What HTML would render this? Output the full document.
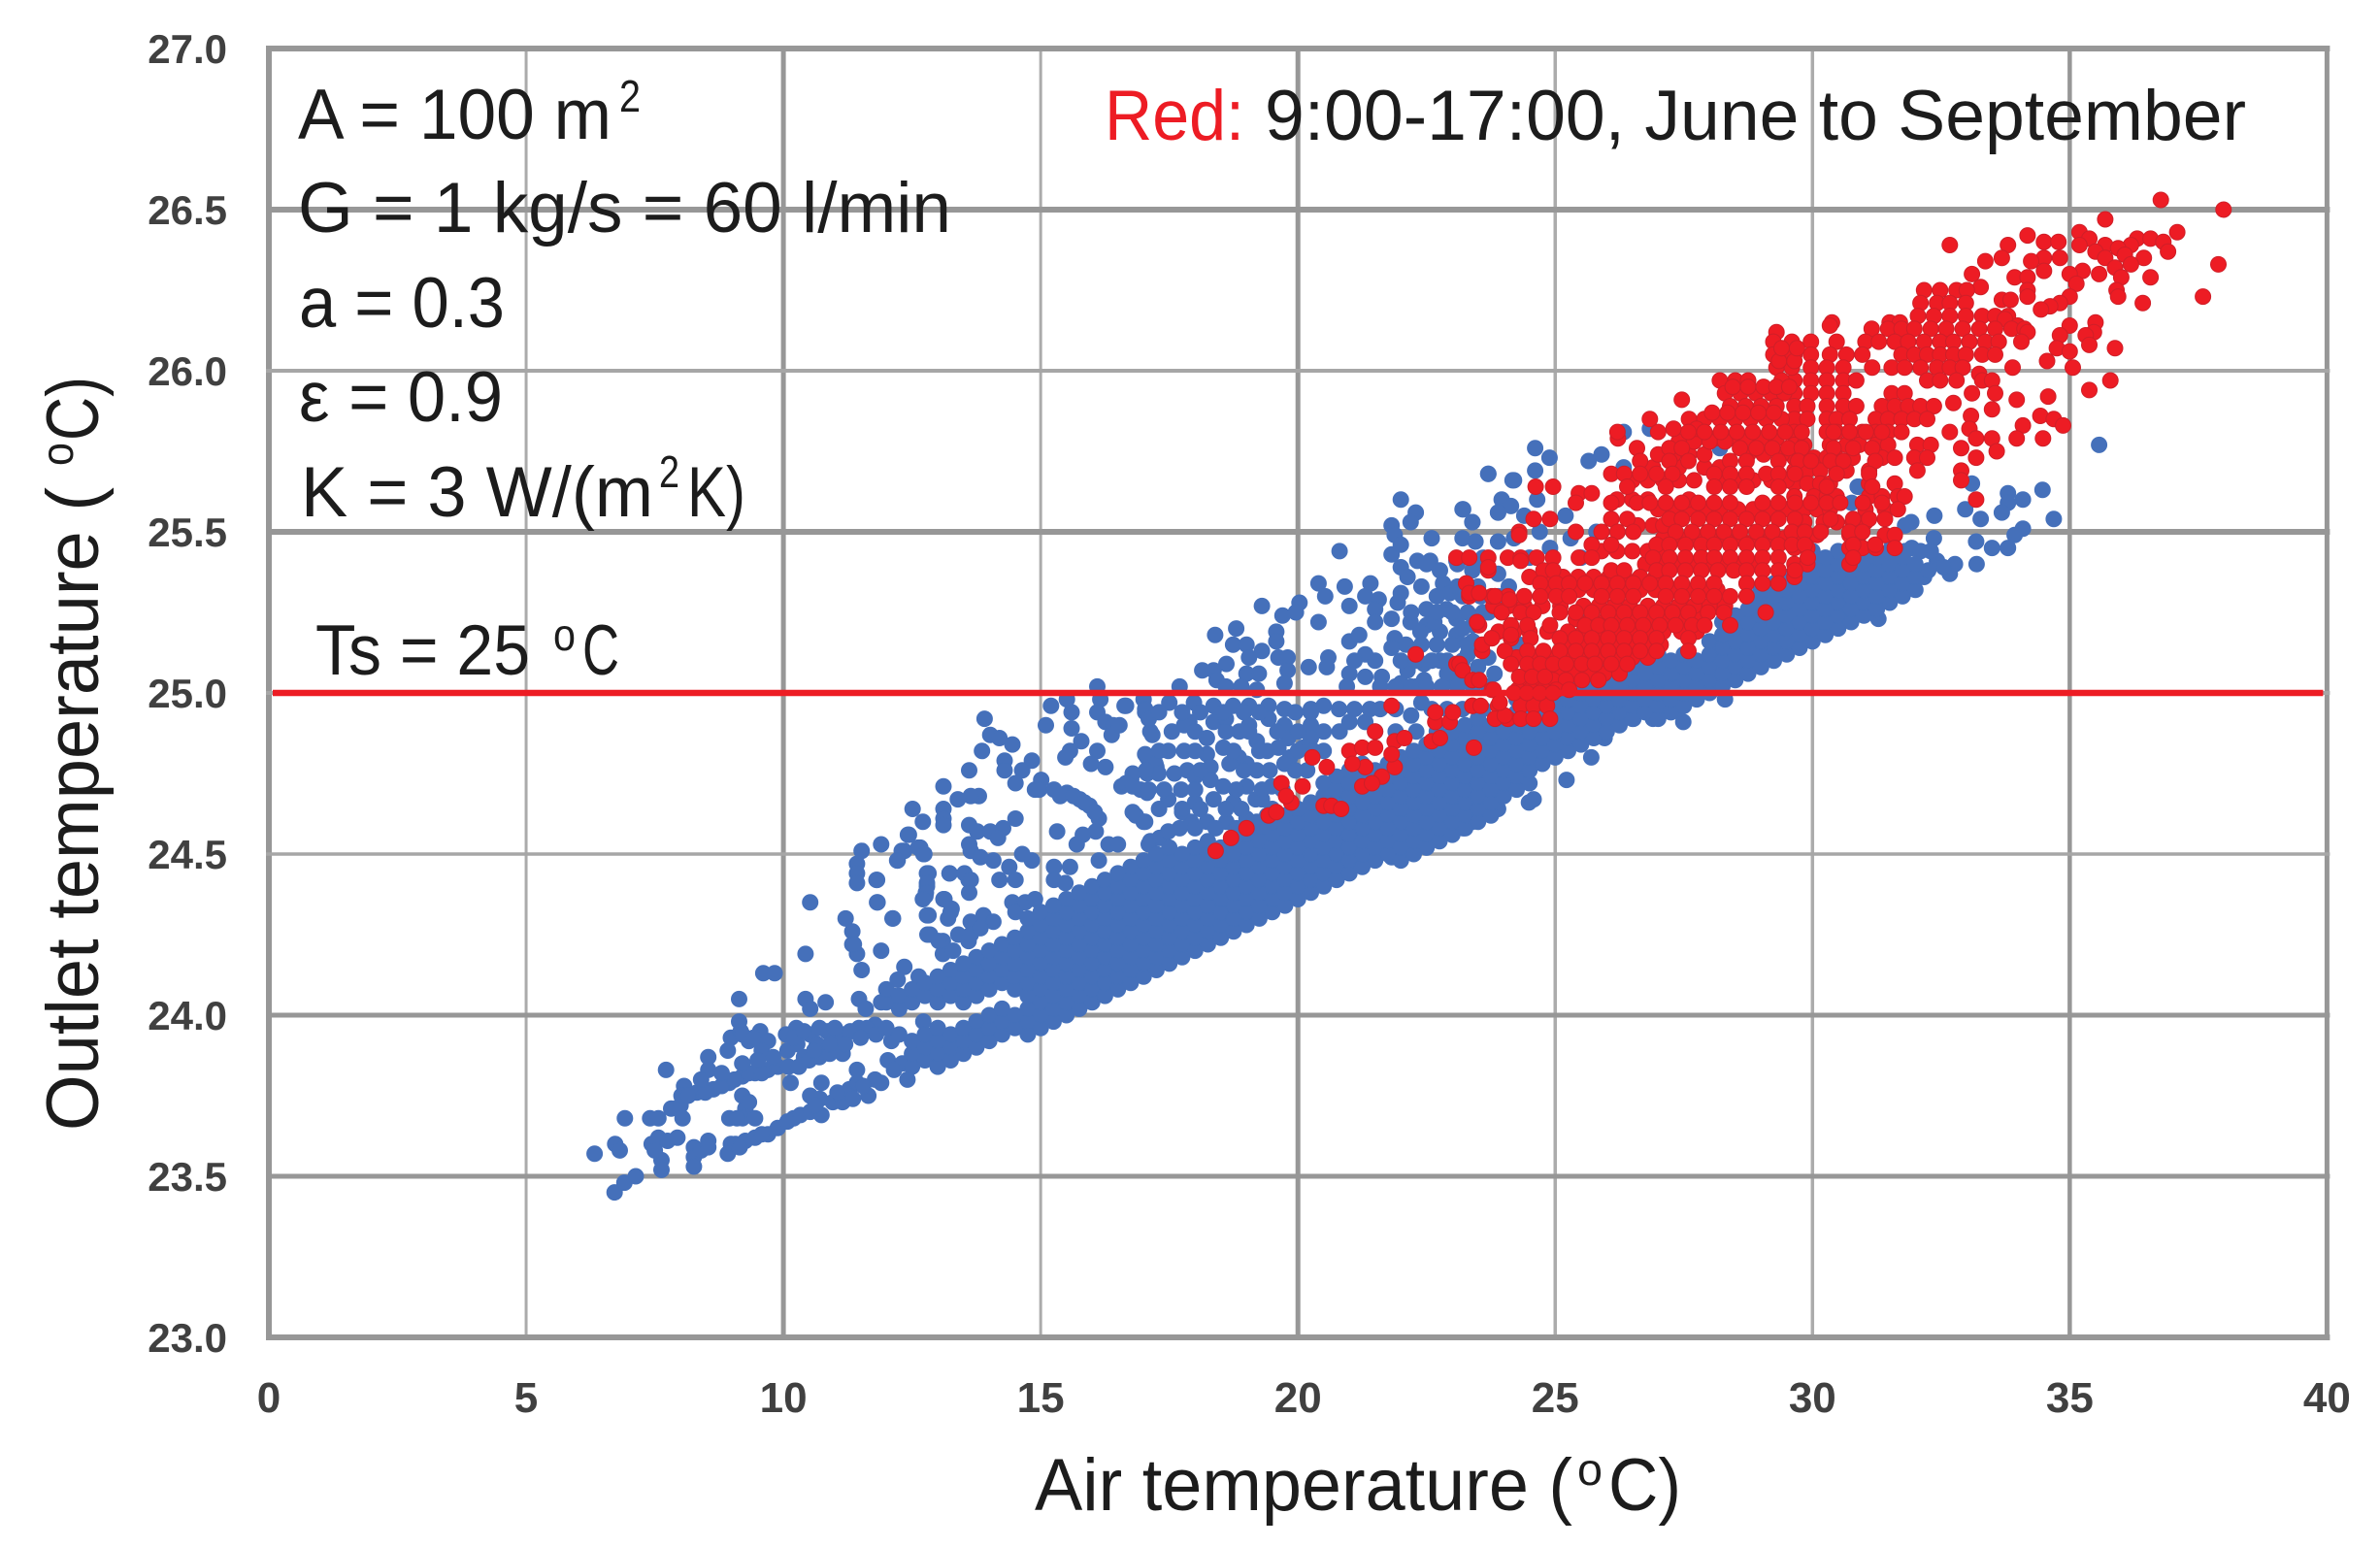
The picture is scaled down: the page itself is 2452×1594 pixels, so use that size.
<!DOCTYPE html>
<html lang="en">
<head>
<meta charset="utf-8">
<title>Outlet temperature vs air temperature</title>
<style>
html,body{margin:0;padding:0;background:#fff;}
svg{display:block;}
text{font-family:"Liberation Sans",sans-serif;}
.big{font-size:73px;fill:#1c1c1c;}
.axis{font-size:76px;fill:#1c1c1c;}
.sup{font-size:46px;fill:#1c1c1c;}
.tick{font-weight:bold;fill:#404040;}
</style>
</head>
<body>
<svg id="chart" xmlns="http://www.w3.org/2000/svg" width="2452" height="1594" viewBox="0 0 2452 1594">
<rect width="2452" height="1594" fill="#ffffff"/>
<g id="grid"></g>
<g id="blue"></g>
<g id="red"></g>
<g id="ts"></g>
<g id="ticks"></g>

<g>
<text class="big" x="307" y="143" textLength="323" lengthAdjust="spacingAndGlyphs">A = 100 m</text>
<text class="sup" x="638" y="115" textLength="22" lengthAdjust="spacingAndGlyphs">2</text>
<text class="big" x="307" y="239" textLength="673" lengthAdjust="spacingAndGlyphs">G = 1 kg/s = 60 l/min</text>
<text class="big" x="308" y="337" textLength="212" lengthAdjust="spacingAndGlyphs">a = 0.3</text>
<text class="big" x="308" y="434" textLength="210" lengthAdjust="spacingAndGlyphs">ε = 0.9</text>
<text class="big" x="310" y="532" textLength="363" lengthAdjust="spacingAndGlyphs">K = 3 W/(m</text>
<text class="sup" x="679" y="502" textLength="21" lengthAdjust="spacingAndGlyphs">2</text>
<text class="big" x="708" y="532" textLength="60" lengthAdjust="spacingAndGlyphs">K)</text>
<text class="big" x="325" y="695" textLength="221" lengthAdjust="spacingAndGlyphs">Ts = 25</text>
<text class="sup" x="570" y="670" textLength="23" lengthAdjust="spacingAndGlyphs">o</text>
<text class="big" x="600" y="695" textLength="38" lengthAdjust="spacingAndGlyphs">C</text>
<text class="big" x="1138" y="144" textLength="144" lengthAdjust="spacingAndGlyphs" style="fill:#ed1c24">Red:</text>
<text class="big" x="1303" y="144" textLength="1011" lengthAdjust="spacingAndGlyphs">9:00-17:00, June to September</text>
</g>

<g>
<text class="axis" x="1066" y="1556" textLength="554" lengthAdjust="spacingAndGlyphs">Air temperature (</text>
<text class="sup" x="1625" y="1530" textLength="26" lengthAdjust="spacingAndGlyphs">o</text>
<text class="axis" x="1657" y="1556" textLength="75" lengthAdjust="spacingAndGlyphs">C)</text>
</g>
<g>
<text class="axis" transform="translate(101,1165) rotate(-90)" textLength="663" lengthAdjust="spacingAndGlyphs">Outlet temperature (</text>
<text class="sup" transform="translate(75,480) rotate(-90)" textLength="24" lengthAdjust="spacingAndGlyphs">o</text>
<text class="axis" transform="translate(101,454) rotate(-90)" textLength="66" lengthAdjust="spacingAndGlyphs">C)</text>
</g>
</svg>

<script>
var xTickValues = [0,5,10,15,20,25,30,35,40];
var yTickValues = [23,23.5,24,24.5,25,25.5,26,26.5,27];
var thresholdValue = 25;

/* sparse blue points: x,y pairs */
var blueSparseLow = [
6.33,23.57, 6.73,23.6, 6.82,23.58, 6.92,23.68, 6.72,23.45, 6.91,23.48, 7.13,23.5, 7.41,23.68, 7.57,23.68, 7.72,23.83,
7.44,23.6, 7.57,23.62, 7.75,23.61, 7.94,23.62, 7.63,23.55, 7.63,23.52, 7.5,23.58, 8.26,23.59, 8.26,23.56, 8.26,23.53, 8.4,23.58,
8.54,23.61, 8.54,23.59, 7.82,23.71, 8.0,23.72, 8.07,23.78, 8.02,23.75, 8.04,23.68, 8.32,23.76, 8.64,23.77, 8.95,23.79, 8.15,23.75,
8.48,23.76, 8.8,23.78, 9.2,23.81, 9.45,23.82, 9.7,23.83, 9.89,23.84, 9.05,23.8, 9.33,23.82, 9.58,23.82, 9.14,24.05, 9.61,24.13, 9.83,24.13,
8.54,23.87, 8.54,23.83, 8.92,23.89, 8.98,23.93, 9.14,23.98, 9.17,23.95, 9.33,23.92, 9.55,23.95, 9.7,23.92, 9.58,23.89, 9.2,23.94, 9.42,23.93,
9.2,23.75, 9.26,23.71, 8.95,23.68, 9.2,23.68, 9.45,23.68, 9.1,23.68, 9.33,23.73,
8.92,23.57, 8.98,23.6, 9.07,23.6, 9.26,23.61, 9.45,23.62, 9.7,23.63, 9.89,23.65, 9.15,23.59, 9.58,23.63, 10.08,23.67, 10.2,23.68, 10.33,23.69,
10.52,23.7, 10.74,23.69, 10.71,23.74, 10.74,23.79, 10.52,23.75, 10.62,23.72, 10.96,23.73, 11.15,23.73, 11.28,23.77, 11.43,23.83, 11.43,23.79,
11.65,23.75, 11.78,23.8, 11.9,23.79, 12.03,23.86, 12.31,23.85, 12.41,23.8, 12.15,23.83, 11.05,23.76, 11.35,23.74, 11.55,23.78,
10.08,23.89, 10.27,23.91, 10.52,23.94, 10.65,23.91, 10.14,23.79, 10.4,23.87, 11.0,23.92, 11.15,23.88, 11.15,23.94, 11.47,23.96, 11.78,23.97,
10.1,23.84, 10.3,23.84, 10.5,23.86, 10.7,23.87, 10.9,23.88, 10.25,23.96, 10.85,23.95, 11.3,23.95, 11.62,23.96, 10.05,23.94,
10.43,24.05, 10.52,24.02, 10.82,24.04, 11.47,24.05, 11.6,24.02, 10.52,24.35, 10.43,24.19,
11.21,24.3, 11.34,24.26, 11.34,24.22, 11.43,24.19, 11.52,24.14, 11.9,24.2, 12.13,24.3, 11.83,24.35, 11.81,24.42,
11.43,24.47, 11.43,24.44, 11.43,24.41, 11.52,24.51, 11.9,24.53, 12.22,24.48, 12.35,24.51, 12.66,24.52, 12.72,24.5, 12.44,24.56,
12.35,24.15, 12.63,24.12, 12.22,24.11, 11.9,24.04, 12.14,24.06, 12.72,23.98, 12.82,24.44, 12.79,24.4, 12.76,24.37, 13.23,24.44,
13.13,24.36, 13.25,24.32, 12.82,24.31, 12.85,24.25, 13.1,24.23, 13.1,24.19, 13.3,24.2, 13.4,24.25, 13.6,24.42, 13.6,24.23,
8.4,23.8, 8.8,23.82, 9.2,23.85, 9.5,23.86, 9.8,23.87, 10.2,23.93, 10.4,23.95, 10.7,23.96, 11,23.96, 10.6,23.89, 10.9,23.91, 11.2,23.91, 11.5,23.93, 11.8,23.94, 12.1,23.92
];

var blueSparseMid = [
13.91,24.92, 14.02,24.87, 14.2,24.86, 14.45,24.84, 13.86,24.82, 14.3,24.79, 14.3,24.76, 14.83,24.79, 14.51,24.72, 14.64,24.76, 13.61,24.76,
13.11,24.71, 13.8,24.68, 13.64,24.68, 13.39,24.67, 13.11,24.64, 13.11,24.61, 13.11,24.59, 12.51,24.64, 12.71,24.6, 12.42,24.56,
14.89,24.7, 15.01,24.73, 14.97,24.7, 14.51,24.61, 13.61,24.59, 13.77,24.57, 14.02,24.57, 14.27,24.58, 14.17,24.55, 13.61,24.53, 13.64,24.51,
12.3,24.51, 12.21,24.48, 12.62,24.52, 12.74,24.5, 11.82,24.42, 11.82,24.35, 12.12,24.3, 11.37,24.22,
12.79,24.44, 12.79,24.41, 12.77,24.38, 12.71,24.36, 13.11,24.36, 13.27,24.33, 13.2,24.3, 12.79,24.31, 13.23,24.44, 13.52,24.44, 13.64,24.42, 13.61,24.38,
12.8,24.25, 13.02,24.23, 13.64,24.29, 13.89,24.31, 14.08,24.29, 13.64,24.25, 13.83,24.27,
14.39,24.46, 14.2,24.42, 14.51,24.42, 14.83,24.48, 14.64,24.5, 14.08,24.48, 13.83,24.49, 14.45,24.35, 14.7,24.35, 14.89,24.36, 14.51,24.32,
15.2,24.96, 15.1,24.9, 15.51,24.98, 15.6,24.94, 15.6,24.89, 16.1,25.02, 16.16,24.98, 16.1,24.94, 16.26,24.91, 16.41,24.9, 16.38,24.87,
16.63,24.96, 17.0,24.98, 17.03,24.94, 17.13,24.88, 15.79,24.85, 15.57,24.82, 15.48,24.8, 16.1,24.82, 15.98,24.78, 16.26,24.77,
15.26,24.7, 15.51,24.69, 15.76,24.67, 15.95,24.65, 16.13,24.61, 16.07,24.57, 15.82,24.56, 15.7,24.53, 15.32,24.57, 15.38,24.68, 15.64,24.68, 15.85,24.66, 16.05,24.63,
16.13,24.48, 16.32,24.53, 16.5,24.53, 15.26,24.46, 15.57,24.46, 15.26,24.42, 15.48,24.41, 16.76,24.73, 16.57,24.71, 17.07,24.8, 17.07,24.75, 16.94,24.7,
17.25,24.77, 17.07,24.69, 16.79,24.63, 17.0,24.6, 17.13,24.54, 17.31,24.55
];

var blueSparseHigh = [
23.7,25.68, 24.2,25.66, 23.96,25.6, 24.14,25.58, 23.89,25.56, 23.2,25.57, 23.39,25.53, 22.0,25.6, 22.29,25.56, 22.19,25.53, 21.82,25.52, 21.88,25.49,
22.6,25.48, 23.2,25.48, 23.45,25.47, 23.89,25.47, 24.65,25.6, 20.81,25.44, 21.82,25.43, 22.0,25.46, 22.0,25.39, 22.32,25.41, 22.57,25.41, 22.76,25.38,
22.13,25.36, 23.08,25.41, 23.39,25.38, 23.89,25.37, 20.4,25.34, 20.53,25.3, 20.91,25.33, 21.0,25.27, 21.41,25.34, 21.31,25.3, 21.57,25.29, 22.0,25.31,
21.94,25.28, 21.5,25.26, 21.5,25.22, 21.82,25.23, 22.19,25.22, 22.82,25.34, 22.95,25.31, 22.5,25.26, 22.5,25.21, 22.89,25.26, 23.08,25.23, 23.08,25.18,
22.76,25.19, 22.38,25.19, 22.7,25.3, 23.2,25.3, 22.65,25.22, 19.3,25.27, 20.03,25.28, 19.96,25.25, 19.7,25.24, 19.58,25.19, 19.58,25.16, 20.4,25.22,
18.39,25.18, 18.8,25.2, 18.74,25.15, 19.0,25.15, 19.3,25.13, 19.05,25.11, 18.61,25.09, 18.14,25.07, 18.36,25.07, 18.42,25.04, 19.0,25.06, 19.24,25.06,
19.62,25.11, 19.8,25.11, 19.8,25.07, 19.74,25.03, 20.21,25.08, 20.59,25.11, 20.56,25.08, 17.7,25.02, 21.0,25.16, 21.19,25.18, 21.88,25.17, 21.82,25.14,
21.31,25.12, 21.5,25.1, 21.0,25.06, 21.31,25.05, 21.63,25.05, 22.13,25.07, 22.45,25.09, 22.76,25.1, 23.7,25.11, 23.82,25.06, 22.45,25.04, 23.08,25.04,
21.1,25.1, 21.6,25.02, 22.0,25.03, 22.3,25.02, 22.9,25.06, 23.3,25.12, 23.5,25.08, 23.4,25.21, 23.7,25.25, 18.6,25.02, 18.9,25.02, 19.2,25.01, 20.95,25.02,
16.66,24.96, 17.03,24.95, 17.5,24.97, 17.98,24.97, 18.36,24.96, 18.74,24.96, 19.05,24.96, 19.43,24.96, 19.74,24.95, 20.25,24.95, 20.5,24.96,
16.53,24.9, 17.1,24.92, 17.89,24.91, 18.36,24.91, 18.86,24.88, 19.43,24.92, 19.74,24.9, 20.25,24.9, 21.0,24.91, 21.31,24.91, 17.17,24.87, 17.79,24.9,
18.23,24.86, 19.2,24.85, 19.81,24.86, 20.25,24.86, 20.81,24.88, 18.6,24.92, 19.05,24.9, 21.6,24.95, 22.2,24.93, 22.4,24.97,
17.03,24.81, 17.48,24.82, 17.79,24.82, 18.23,24.81, 18.55,24.83, 19.0,24.78, 19.62,24.83, 20.5,24.82, 19.85,24.8, 20.1,24.83, 18.85,24.8,
17.23,24.78, 16.79,24.75, 16.66,24.72, 17.29,24.75, 17.85,24.76, 18.3,24.77, 18.67,24.78, 19.74,24.78, 20.18,24.76, 17.6,24.75, 18.0,24.74, 19.2,24.76,
16.79,24.71, 17.1,24.7, 17.48,24.67, 17.73,24.7, 18.3,24.73, 18.55,24.71, 19.0,24.71, 19.18,24.67, 16.85,24.62, 17.03,24.6, 17.92,24.6, 18.36,24.67,
18.23,24.6, 17.48,24.57, 17.1,24.53, 18.61,24.6, 19.0,24.61, 19.3,24.67, 19.49,24.71, 17.75,24.63, 18.0,24.66, 18.75,24.66, 19.2,24.6, 19.4,24.62,
24.61,25.76, 24.89,25.73, 23.7,25.68, 24.17,25.66, 24.61,25.69, 23.89,25.56, 23.21,25.57, 23.39,25.53, 25.65,25.72, 25.9,25.74, 26.33,25.81, 26.33,25.7,
26.84,25.82, 28.2,25.76, 30.9,25.64, 29.6,25.48, 24.4,25.55, 24.7,25.5, 24.9,25.45, 25.2,25.55, 25.3,25.48, 25.5,25.42, 25.8,25.5, 24.2,25.48, 24.5,25.42,
23.6,25.42, 23.9,25.3, 23.55,25.3, 24.3,25.15, 23.6,25.25, 25.2,25.3, 25.5,25.25, 23.2,25.2, 23.4,25.16,
35.57,25.77, 34.47,25.63, 33.8,25.62, 34.09,25.6, 33.8,25.59, 34.69,25.54, 33.68,25.56, 33.27,25.54, 32.97,25.57, 32.37,25.55, 31.92,25.53, 31.8,25.52,
34.09,25.51, 33.93,25.49, 33.8,25.45, 33.49,25.45, 33.18,25.47, 33.19,25.4, 32.67,25.37, 32.77,25.4, 32.42,25.41, 32.36,25.48, 32.3,25.44, 32.17,25.36,
31.8,25.44, 31.93,25.45, 31.55,25.46, 30.88,25.64, 30.76,25.59, 33.1,25.65, 32.1,25.44, 32.55,25.39,
25.22,24.73, 25.7,24.8, 25.96,24.86, 27.49,24.91, 27.4,24.95, 26.9,24.92, 26.52,24.92, 26.08,24.92, 24.49,24.66, 24.58,24.67, 23.89,24.64, 23.45,24.67,
23.21,24.58, 23.39,24.6, 21.82,24.49, 31.28,25.23, 28.3,24.98, 27.2,24.95
];

/* additional blue points filling the busy zone above the band */
var blueScatterRows = [
[24.95,20.8,21.1,21.4,21.9,22.6,22.9,23.2,23.6],[25.02,21.9,22.2,22.5,22.8,23.1,23.4,23.7],[25.1,22,22.3,22.6,22.9,23.2],[25.15,22.1,22.4,22.7,23,23.3],
[25.25,22.2,22.7,23,23.3],[25.33,22.4,23.1,23.5,24.1],[25.4,22.5,23.1,23.6],[24.88,21.5,21.9,22.3,22.7],
[24.58,17.7,18,18.4,18.8,19.2,19.4],[24.64,17.3,17.75,18.1,18.6,18.9,19.5],[24.7,17.4,18,18.8,19.3,19.7],[24.76,17.05,18.1,18.95,19.45,19.95],
[24.82,17.3,18,18.75,19.25,19.4,20,20.3],[24.88,17.55,18,18.6,19.05,19.6,20,20.5],[24.94,17.3,17.75,18.1,18.55,18.95,19.25,19.95,20.25]
];

/* dense blue band, one column per entry: air temperature first, then outlet temperatures */
var blueBandCool = [
[12,23.96,24.04,24.08],[12.25,23.94,24.02,24.06],[12.5,23.84,23.88,23.92,24.04,24.08],[12.75,23.86,23.9,23.94,24.06,24.1],
[13,23.84,23.88,23.92,23.96,24.04,24.08,24.12],[13.25,23.86,23.9,23.94,24.06,24.1,24.14],[13.5,23.88,23.92,23.96,24.04,24.08,24.12,24.16],
[13.75,23.9,23.94,23.98,24.06,24.1,24.14,24.18],[14,23.92,23.96,24,24.08,24.12,24.16,24.2],[14.25,23.94,23.98,24.02,24.1,24.14,24.18,24.22],
[14.5,23.96,24,24.08,24.12,24.16,24.2,24.24],[14.75,23.94,23.98,24.02,24.06,24.1,24.14,24.18,24.22,24.26,24.3],
[15,23.96,24,24.04,24.08,24.12,24.16,24.2,24.24,24.28,24.32],[15.25,23.98,24.02,24.06,24.1,24.14,24.18,24.22,24.26,24.3,24.34],
[15.5,24,24.04,24.08,24.12,24.16,24.2,24.24,24.28,24.32,24.36],[15.75,24.02,24.06,24.1,24.14,24.18,24.22,24.26,24.3,24.34,24.38],
[16,24.04,24.08,24.12,24.16,24.2,24.24,24.28,24.32,24.36,24.4],[16.25,24.06,24.1,24.14,24.18,24.22,24.26,24.3,24.34,24.38,24.42],
[16.5,24.08,24.12,24.16,24.2,24.24,24.28,24.32,24.36,24.4,24.44],[16.75,24.1,24.14,24.18,24.22,24.26,24.3,24.34,24.38,24.42,24.46],
[17,24.12,24.16,24.2,24.24,24.28,24.32,24.36,24.4,24.44,24.48],[17.25,24.14,24.18,24.22,24.26,24.3,24.34,24.38,24.42,24.46,24.5],
[17.5,24.16,24.2,24.24,24.28,24.32,24.36,24.4,24.44,24.48,24.52],[17.75,24.18,24.22,24.26,24.3,24.34,24.38,24.42,24.46,24.5],
[18,24.2,24.24,24.28,24.32,24.36,24.4,24.44,24.48,24.52],[18.25,24.22,24.26,24.3,24.34,24.38,24.42,24.46,24.5,24.54],
[18.5,24.24,24.28,24.32,24.36,24.4,24.44,24.48,24.52],[18.75,24.26,24.3,24.34,24.38,24.42,24.46,24.5,24.54],
[19,24.28,24.32,24.36,24.4,24.44,24.48,24.52,24.56],[19.25,24.3,24.34,24.38,24.42,24.46,24.5,24.54],
[19.5,24.32,24.36,24.4,24.44,24.48,24.52,24.56,24.6],[19.75,24.34,24.38,24.42,24.46,24.5,24.54,24.58,24.62],
[20,24.36,24.4,24.44,24.48,24.52,24.56,24.6,24.64],[20.25,24.38,24.42,24.46,24.5,24.54,24.58,24.62,24.66],
[20.5,24.4,24.44,24.48,24.52,24.56,24.6,24.64,24.68,24.72],[20.75,24.42,24.46,24.5,24.54,24.58,24.62,24.66,24.7,24.74],
[21,24.44,24.48,24.52,24.56,24.6,24.64,24.68,24.72,24.76],[21.25,24.46,24.5,24.54,24.58,24.62,24.66,24.7,24.74,24.78],
[21.5,24.48,24.52,24.56,24.6,24.64,24.68,24.72,24.76],[21.75,24.5,24.54,24.58,24.62,24.66,24.7,24.74,24.78],
[22,24.48,24.52,24.56,24.6,24.64,24.68,24.72,24.76,24.8]
];

var blueBandWarm = [
[22.25,24.5,24.54,24.58,24.62,24.66,24.7,24.74,24.78,24.82],[22.5,24.52,24.56,24.6,24.64,24.68,24.72,24.76,24.8,24.84],
[22.75,24.54,24.58,24.62,24.66,24.7,24.74,24.78,24.82,24.86],[23,24.56,24.6,24.64,24.68,24.72,24.76,24.8,24.84,24.88],
[23.25,24.58,24.62,24.66,24.7,24.74,24.78,24.82,24.86,24.9],[23.5,24.6,24.64,24.68,24.72,24.76,24.8,24.84,24.88,24.92],
[23.75,24.62,24.66,24.7,24.74,24.78,24.82,24.86,24.9],[24,24.68,24.72,24.76,24.8,24.84,24.88,24.92],
[24.25,24.7,24.74,24.78,24.82,24.86,24.9,24.94,24.98],[24.5,24.72,24.76,24.8,24.84,24.88,24.92,24.96,25,25.04],
[24.75,24.78,24.82,24.86,24.9,24.94,24.98,25.02,25.06],[25,24.8,24.84,24.88,24.92,24.96,25,25.04,25.08],
[25.25,24.82,24.86,24.9,24.94,24.98,25.02,25.06,25.1,25.14],[25.5,24.84,24.88,24.92,24.96,25,25.04,25.08,25.12,25.16],
[25.75,24.86,24.9,24.94,24.98,25.02,25.06,25.1,25.14],[26,24.88,24.92,24.96,25,25.04,25.08,25.12,25.16],
[26.25,24.9,24.94,24.98,25.02,25.06,25.1,25.14],[26.5,24.92,24.96,25,25.04,25.08,25.12],[26.75,24.94,24.98,25.02,25.06,25.1],
[27,24.92,24.96,25,25.04,25.08,25.12],[27.25,24.94,24.98,25.02,25.06,25.1],[27.5,24.96,25,25.04,25.08,25.12],[27.75,24.98,25.02,25.06,25.1],
[28,25,25.04,25.08,25.12,25.16],[28.25,25.02,25.06,25.1,25.14,25.18,25.22],[28.5,25.04,25.08,25.12,25.16,25.2,25.24],
[28.75,25.06,25.1,25.14,25.18,25.22,25.26,25.3],[29,25.08,25.12,25.16,25.2,25.24,25.28,25.32],[29.25,25.1,25.14,25.18,25.22,25.26,25.3,25.34],
[29.5,25.12,25.16,25.2,25.24,25.28,25.32,25.36],[29.75,25.14,25.18,25.22,25.26,25.3,25.34,25.38],[30,25.16,25.2,25.24,25.28,25.32,25.36,25.4,25.44],
[30.25,25.18,25.22,25.26,25.3,25.34,25.38,25.42],[30.5,25.2,25.24,25.28,25.32,25.36,25.4,25.44],[30.75,25.22,25.26,25.3,25.34,25.38,25.42],
[31,25.24,25.28,25.32,25.36,25.4,25.44],[31.25,25.26,25.3,25.34,25.38,25.42],[31.5,25.28,25.32,25.36,25.4,25.44],[31.75,25.3,25.34,25.38,25.42],
[32,25.32,25.36,25.4],[32.25,25.38]
];

/* red points as rows: outlet temperature first, then air temperatures */
var redRowsHot = [
[26.53,36.77],[26.5,37.99],[26.47,35.69],[26.43,37.09,35.19],[26.42,34.18],[26.41,35.38,36.31,36.57],[26.4,34.5,34.78,36.82],[26.39,32.67,33.8,35.19,35.69,36.19],
[26.38,35.94],[26.37,36.91,35.5],[26.36,36.07],[26.35,33.68,35.69,34.5,34.81,36.44],[26.34,33.36,34.25],[26.33,37.89,36.19],[26.32,35.88],[26.31,34.5,35.25],
[26.3,33.1,35,35.57],[26.29,33.93,34.18,36,36.57],[26.27,35.13],[26.26,33.27],[26.25,34.18,35.91,32.17,32.48,32.8,33],[26.23,37.59,35.94,34.18,35],
[26.22,33.68,33.85],[26.21,36.42,34.81,32.1,32.42,32.67,32.98],[26.2,34.62],[26.19,34.44],[26.17,32.05,32.36,32.67,32.98,33.3,33.55,33.8],[26.16,33.74],
[26.15,30.38,35.5,31.5,31.7],[26.14,35,33.99],[26.13,31.15,31.47,31.73,31.98,32.3,32.6,32.92,33.24,33.55,33.87,34.12],[26.12,34.18,35.47],[26.11,35.31,34.81],
[26.09,29.97,30.47,31.03,31.29,31.6,31.86,32.17,32.48,32.74,33.05,33.36,33.62,34.06],[26.08,35.38],[26.07,34.75,35.88],
[26.05,29.65,29.97,30.34,30.66,30.97,31.73,31.98,32.23,32.48,32.74,32.98,33.3,33.55],[26.06,35],[26.03,34.56],
[26.01,29.97,30.28,30.6,31.16,31.54,31.79,32.1,32.42,32.67,32.92,35.06,33.89],[25.99,33.24],[25.97,29.65,29.97,30.28,30.6,30.85,32.23,32.48,32.8,33.3,33.49,35.79],
[25.94,35.38],[25.93,29.65,29.97,30.28,30.6,31.54,31.79,33.1,33.55],[25.92,34.58],[25.91,33.97],[25.9,32.74],
[25.89,29.65,29.9,30.28,30.6,30.85,31.35,31.6,31.86,32.1,32.36],[25.88,33.49],[25.86,33.08,34.43],
[25.85,29.65,29.9,30.28,30.47,30.72,31.23,31.47,31.73,31.98,32.23,34.69],[25.83,34.09,34.87],[25.82,33.05],
[25.81,29.65,30.28,30.47,30.72,30.97,31.23,31.47,31.73,32.67],[25.79,33.18,33.49,33.97,34.48],
[25.77,29.65,29.84,30.34,30.66,30.91,31.23,31.47,32.04,32.3],[25.76,32.89],[25.75,33.58],
[25.73,29.65,29.84,30.03,30.28,30.47,30.78,31.35,31.6,31.98,32.23,33.18],
[25.69,29.65,29.9,30.15,30.47,30.66,31.1,32.04,32.89],[25.66,32.89],
[25.65,29.65,29.9,30.15,30.34,31.1,31.6],[25.6,33.18],[25.61,29.65,30.03,30.28,30.47,31.1,31.35,31.66,31.79],
[25.57,29.84,30.09,30.34,31.03,31.41,31.66],[25.53,29.84,30.22,30.47,30.78,31.03],[25.49,29.84,30.09,30.72,30.91,31.41,31.6],
[25.45,29.65,29.9,30.72,30.97,31.23,31.6],[25.4,29.65,29.9,30.72],[25.36,29.65]
];

var redRowsUpper = [
[26.14,30.34],[26.12,29.3],[26.09,29.24,29.6],[26.05,29.24,29.5],[26.01,29.3,29.6],[25.97,28.2,28.5,28.75,29.4],[25.93,28.3,28.6,28.9,29.2,29.45],
[25.91,27.46],[25.89,28.4,28.7,29,29.3],[25.85,26.84,27.6,27.9,28.2,28.5,28.8,29.1,29.4],[25.79,26.22,28.1,28.4,28.7,29,29.3],
[25.74,28.75,29.05,29.4],[25.66,28.25,28.55,28.85,29.2,29.5],[25.57,27,27.3,27.6,27.9,28.2,28.55,28.85,29.15,29.5],
[25.48,27.1,27.4,27.7,28,28.3,28.6,28.9,29.2,29.45],[25.4,26.75,27.05,27.35,27.65,27.95,28.25,28.55,28.85],
[25.32,24.85,25.15,25.45,25.75,26.05,26.35,26.65,26.95,27.25,27.55,27.85,28.15],[25.23,25.4,25.7,26,26.3,26.6,26.9,27.2,27.5,27.8],
[25.15,25.25,25.55,25.85,26.15,26.45,26.75,27.05]
];

var redRowsCore = [
[25.27,23.8,24.1,24.4,24.75,25.1,25.55,25.85,26.15,26.45,26.8,27.1,27.4,27.7,28,28.3],
[25.19,23.9,24.2,24.5,24.85,25.25,25.55,25.85,26.2,26.5,26.8,27.1,27.45,27.75],
[25.11,24.25,24.55,24.85,25.25,25.55,25.85,26.2,26.5,26.8],[25.06,24.6,24.85,25.1,25.35,25.65,25.95,26.25],
[25.36,24.5,24.8,25.15,25.45,25.75,26.05,26.35,26.65,26.95],[25.44,25.9,26.2,26.5,26.8,27.1],[25.52,26.6,26.9,27.1],[25.6,26.2,26.5,26.8,27.6],
[25.66,26.5,26.8,27.1,27.4,27.7],[25.7,26.9,27.4,27.9,28.2],[25.74,27,27.3,27.6,27.9],[25.78,27.4,27.7,28,28.3],[25.82,27.3,27.75],
[25.87,28.05,28.35,28.65,28.95,29.25],[25.95,28.45,28.75,29.05,29.3,29.55],[26.03,29.35,29.65],[26.07,29.4,29.7]
];

var redRowsWarm = [
[25.81,26.21,27,27.59,27.9,28.22,28.53,28.84,29.16,29.47,29.79,30.41,30.72,31.04,31.35],
[25.76,26.59,27.22,27.46,28.59,28.91,29.22,29.53,29.79,30.41,30.79,31.16],
[25.72,26.65,27.22,27.59,28.4,28.72,29.34,29.72,29.97,30.35,30.6,31.22],
[25.68,26.09,26.34,26.65,26.97,27.28,28.09,28.4,28.72,29.1,29.34,29.66,30.47,31.1],
[25.64,24.96,24.62,26.4,27.15,28.09,28.4,28.72,29.34,30.28,31.16],
[25.62,25.46,25.71],
[25.59,25.4,26.09,26.59,26.84,27.15,27.46,27.78,28.09,28.4,29.03,29.34,29.66,29.97,30.28,30.54,30.98,31.35],
[25.54,24.58,24.9,26.09,26.4,27.22,27.46,27.78,28.09,28.4,28.72,29.03,29.34,29.66,30.35,30.79,31.1,31.41],
[25.5,24.3,25.4,25.9,26.21,26.52,27.34,27.66,27.97,28.28,28.59,28.91,29.22,29.6,29.85,30.16,30.72,30.97],
[25.46,25.71,26.09,26.97,27.22,27.53,27.84,28.09,28.4,28.72,29.03,29.34,29.6,29.85,30.79,31.22],
[25.42,24.08,24.33,23.7,23.08,23.33,24.64,24.96,25.46,25.71,26.9,27.22,27.53,27.84,28.09,28.4,28.72,29.03,29.34,29.91,30.79],
[25.38,23.7,24.77,24.96,26.09,26.34,26.97,27.22,27.53,27.84,28.16,28.47,28.72,29.03,29.34,29.66],
[25.34,23.27,24.71,25.02,25.27,25.58,25.9,26.21,26.52,26.84,27.15,27.46,27.78,28.09,28.72,29.03,29.34],
[25.3,23.33,23.77,23.83,24.08,24.4,24.71,25.02,25.27,25.9,26.21,26.52,27.15,27.46,27.78,28.09,28.4,28.72],
[25.25,23.96,24.33,24.58,25.09,25.4,25.71,26.03,26.34,26.65,26.97,27.28,27.59,27.97,28.28,29.09],
[25.21,23.52,24.14,24.46,24.9,25.58,25.84,26.09,26.4,26.71,27.03,27.34,27.66,27.9,28.4],
[25.17,23.77,24.14,24.52,25.09,25.4,25.71,26.03,26.34,26.65,26.97,27.59],
[25.13,23.58,24.02,24.46,24.77,25.09,25.4,25.71,26.03,26.34,26.65,26.97,27.59],
[25.09,23.08,24.14,24.46,24.71,24.96,25.21,25.52,25.77,26.09,26.4],
[25.04,23.39,24.46,24.71,24.96,25.21,25.52,25.84],
[25.01,23.77,24.27,24.52,24.77,25.02,25.27],
[24.96,23.39,23.89,24.33,24.58,24.84],
[24.92,23.83,24.08,24.33,24.58,24.9],
[24.83,23.42],[25.12,22.29]
];

var redRowsCool = [
[24.51,18.4],[24.55,18.7],[24.58,19],[24.62,19.43],[24.63,19.58],[24.66,19.87],[24.72,19.68],[24.68,19.77],[24.71,20.09],
[24.65,20.5,20.65],[24.64,20.84],[24.8,20.28],[24.77,20.56,21.31,21.88],[24.82,21],[24.83,21.25,21.5],[24.78,21.06],[24.85,21.88,22.6],[24.86,22.07,22.76],
[24.81,21.82],[24.74,21.63],[24.71,21.25],[24.72,21.44],[24.91,22.67,22.95],[24.94,22.67,23.01],[24.96,21.82,23.39,23.55],[24.93,24.02],
[25.09,23.14],[25.07,23.2],[25.04,23.39,23.52],[25.15,23.58],[25.17,23.77],[25.18,24.14],[25.22,23.48],[25.31,23.33,23.52],[25.3,23.83,24.4],[25.29,24.11],
[25.41,24.33],[25.39,23.7],[25.49,24.3],[25.01,23.8],[24.97,23.92],[25.05,24.3,24.55,24.8],[25.0,24.2,24.45,24.7,24.95],[24.88,21.5]
];

var X0 = 277, X_PER_UNIT = 53.01, Y23 = 1378, Y_PER_UNIT = 332;
var markerRadius = 8;
function xAxis(v){ return X0 + v * X_PER_UNIT; }
function yAxis(v){ return Y23 - (v - 23) * Y_PER_UNIT; }
var NS = 'http://www.w3.org/2000/svg';

var gridX = document.getElementById('grid');
var vLineWidths = {0:6,5:3,10:5,15:3,20:5,25:3.5,30:3.5,35:4.5,40:5};
var hLineWidths = {23:6,23.5:5,24:5,24.5:3.5,25:4,25.5:6,26:4,26.5:6,27:6};
xTickValues.forEach(function(v){
  var l = document.createElementNS(NS,'line');
  
  
  l.setAttribute('x1', xAxis(v)); l.setAttribute('x2', xAxis(v));
  l.setAttribute('y1', yAxis(27) - 3); l.setAttribute('y2', yAxis(23) + 3);
  l.setAttribute('stroke', vLineWidths[v] > 4 ? '#979797' : '#ababab');
  l.setAttribute('stroke-width', vLineWidths[v]);
  gridX.appendChild(l);
});
yTickValues.forEach(function(v){
  var l = document.createElementNS(NS,'line');
  
  
  l.setAttribute('x1', xAxis(0) - 3); l.setAttribute('x2', xAxis(40) + 3);
  l.setAttribute('y1', yAxis(v)); l.setAttribute('y2', yAxis(v));
  l.setAttribute('stroke', hLineWidths[v] > 4 ? '#979797' : '#a6a6a6');
  l.setAttribute('stroke-width', hLineWidths[v]);
  gridX.appendChild(l);
});

function blueDot(x, y){
  var c = document.createElementNS(NS,'circle');
  
  
  c.setAttribute('cx', xAxis(x).toFixed(1));
  c.setAttribute('cy', yAxis(y).toFixed(1));
  c.setAttribute('r', markerRadius);
  c.setAttribute('fill', '#4570ba');
  c.setAttribute('stroke', '#4570ba');
  c.setAttribute('stroke-width', '1');
  document.getElementById('blue').appendChild(c);
}
function redDot(x, y){
  var c = document.createElementNS(NS,'circle');
  
  
  c.setAttribute('cx', xAxis(x).toFixed(1));
  c.setAttribute('cy', yAxis(y).toFixed(1));
  c.setAttribute('r', markerRadius);
  c.setAttribute('fill', '#ed1c24');
  c.setAttribute('stroke', '#d01f28');
  c.setAttribute('stroke-width', '1');
  document.getElementById('red').appendChild(c);
}
[blueSparseLow, blueSparseMid, blueSparseHigh].forEach(function(a){
  for (var i = 0; i + 1 < a.length; i += 2) blueDot(a[i], a[i+1]);
});
blueScatterRows.forEach(function(r){ for (var i = 1; i < r.length; i++) blueDot(r[i], r[0]); });
[blueBandCool, blueBandWarm].forEach(function(cols){
  cols.forEach(function(c){ for (var i = 1; i < c.length; i++) blueDot(c[0], c[i]); });
});
[redRowsHot, redRowsUpper, redRowsCore, redRowsWarm, redRowsCool].forEach(function(rows){
  rows.forEach(function(r){ for (var i = 1; i < r.length; i++) redDot(r[i], r[0]); });
});

var ts = document.createElementNS(NS,'line');


ts.setAttribute('x1', xAxis(0) + 4); ts.setAttribute('x2', xAxis(40) - 4);
ts.setAttribute('y1', yAxis(thresholdValue)); ts.setAttribute('y2', yAxis(thresholdValue));
ts.setAttribute('stroke', '#ed1c24'); ts.setAttribute('stroke-width', '6.5');
document.getElementById('ts').appendChild(ts);

var ticks = document.getElementById('ticks');
xTickValues.forEach(function(v){
  var t = document.createElementNS(NS,'text');
  
  
  t.setAttribute('class', 'tick');
  t.setAttribute('font-size', '44');
  t.setAttribute('x', xAxis(v)); t.setAttribute('y', 1455);
  t.setAttribute('text-anchor', 'middle');
  t.textContent = String(v);
  ticks.appendChild(t);
});
yTickValues.forEach(function(v){
  var t = document.createElementNS(NS,'text');
  
  
  t.setAttribute('class', 'tick');
  t.setAttribute('font-size', '42');
  t.setAttribute('x', 234); t.setAttribute('y', yAxis(v) + 15);
  t.setAttribute('text-anchor', 'end');
  t.textContent = v.toFixed(1);
  ticks.appendChild(t);
});
</script>
</body>
</html>
